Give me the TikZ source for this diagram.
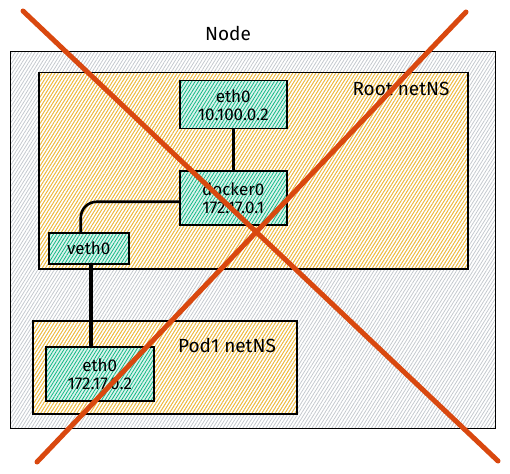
\documentclass[tikz,border=0pt]{standalone}
\usepackage{fontspec}
\setmainfont{Fira Sans}
\usetikzlibrary{patterns.meta}
\definecolor{crossred}{HTML}{D9480F}
\definecolor{hatchgray}{HTML}{C4C9CE}
\definecolor{hatchyellow}{HTML}{FAB005}
\definecolor{hatchgreen}{HTML}{12B886}
\tikzset{
    hatch/.style={pattern={Lines[angle=58,distance=2.8pt,line width=0.8pt]}},
    nodebox/.style={draw,line width=1.5pt,hatch,pattern color=hatchgray,anchor=north west,inner sep=0pt},
    netns/.style={draw,line width=1.5pt,hatch,pattern color=hatchyellow!85,anchor=north west,inner sep=0pt},
    iface/.style={draw,line width=1.5pt,preaction={fill=hatchgreen!15},hatch,pattern color=hatchgreen,
        anchor=north west,inner sep=0pt,align=center,font=\fontsize{17}{18}\selectfont},
    tag/.style={font=\fontsize{19}{20}\selectfont},
    link/.style={line width=2.6pt,line cap=round}
}
\begin{document}
\begin{tikzpicture}[x=1pt,y=-1pt]
        \useasboundingbox (0,0) rectangle (510,473);
        \node[nodebox,minimum width=485pt,minimum height=377pt] (nodebox) at (10,51) {};
        \node[tag] (nodetag) at (228,33) {Node};
        \node[netns,minimum width=429pt,minimum height=196pt] (rootns) at (38,72) {};
        \node[tag] (roottag) at (401,89) {Root netNS};
        \node[netns,minimum width=264pt,minimum height=93pt] (podns) at (32,320) {};
        \node[tag] (podtag) at (227,345) {Pod1 netNS};
        \node[iface,minimum width=107pt,minimum height=48pt] (etha) at (179,80) {eth0\\10.100.0.2};
        \node[iface,minimum width=107pt,minimum height=54pt] (dockerz) at (179,170) {docker0\\172.17.0.1};
        \node[iface,minimum width=80pt,minimum height=31pt] (veth) at (48,232) {veth0};
        \node[iface,minimum width=108pt,minimum height=54pt] (podeth) at (45,346) {eth0\\172.17.0.2};
        \draw[link] (etha) -- (dockerz);
        \draw[link,rounded corners=16pt] ([yshift=-4pt]dockerz.west) -| ([xshift=-8pt]veth.north);
        \draw[link,line width=3.6pt] ([xshift=2pt]veth.south) -- ([xshift=2pt]veth.south |- podeth.north);
        \coordinate (crossa) at (23,11);
        \coordinate (crossb) at (498,461);
        \coordinate (crossc) at (466,12);
        \coordinate (crossd) at (37,462);
        \draw[crossred,line width=5pt,line cap=round] (crossa) -- (crossb);
        \draw[crossred,line width=5pt,line cap=round] (crossc) -- (crossd);
    \end{tikzpicture}
\end{document}
